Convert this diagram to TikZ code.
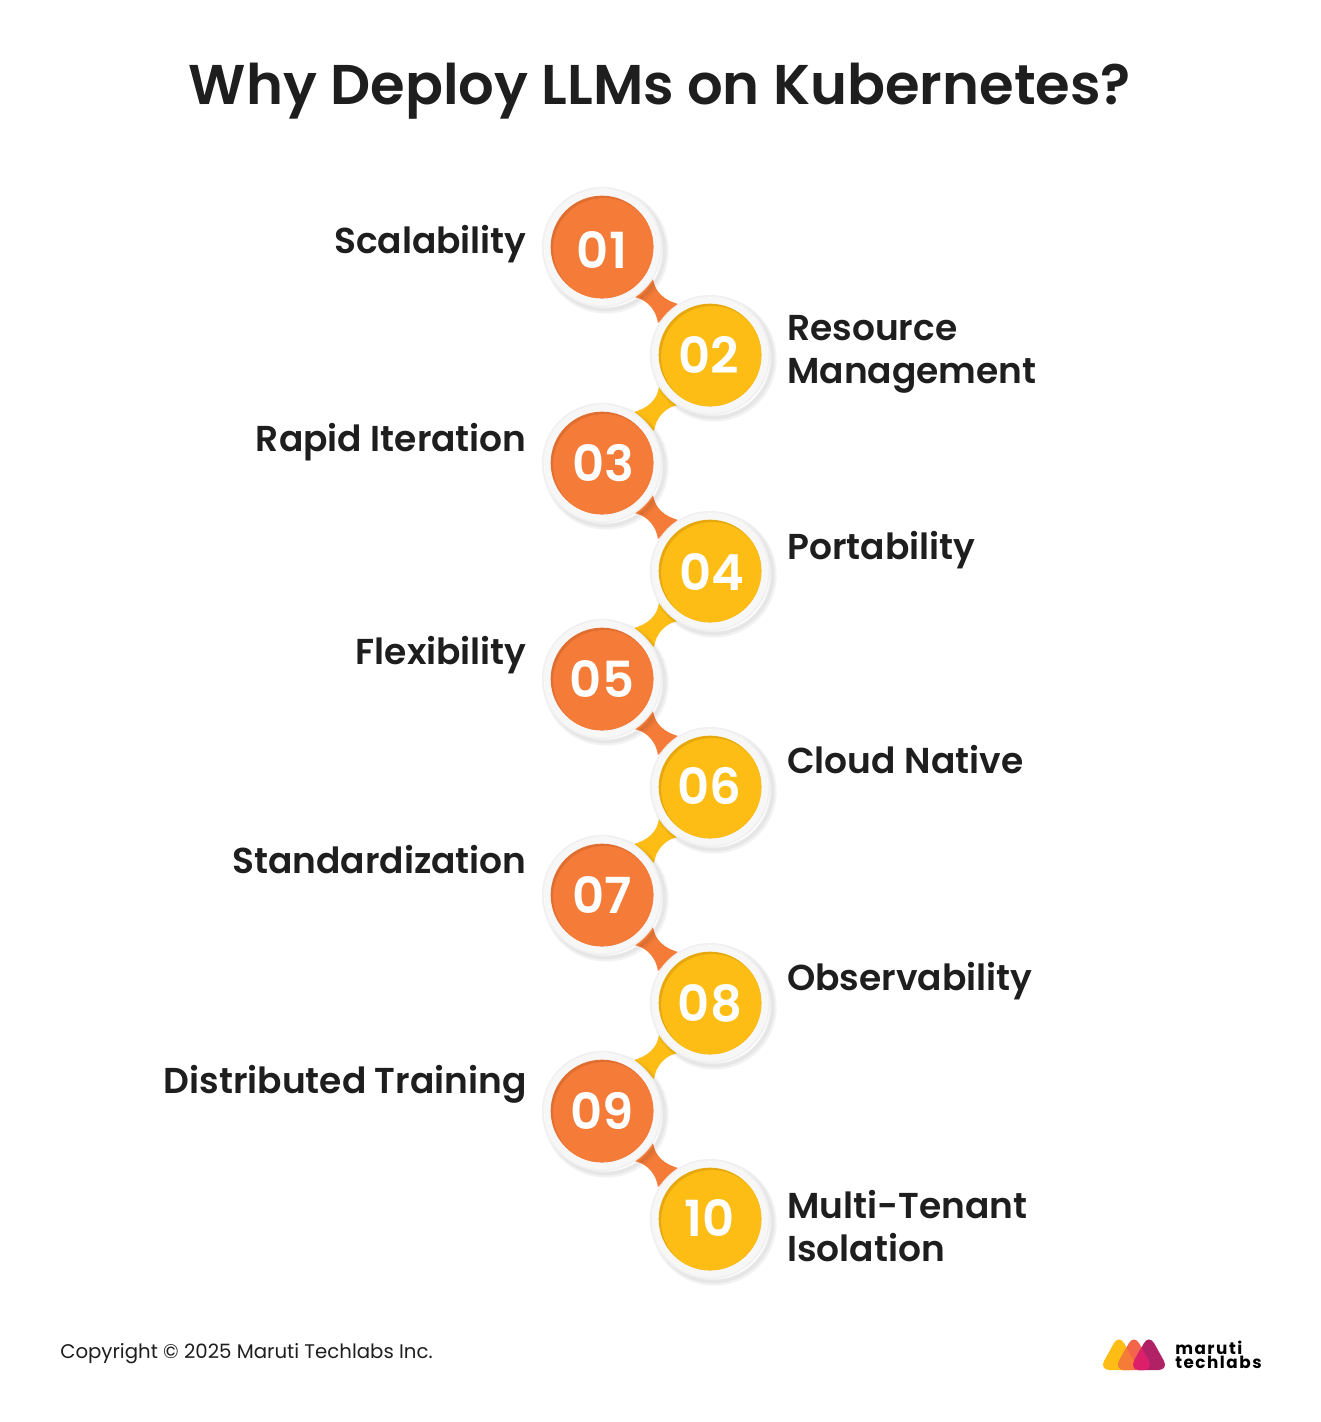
\documentclass[tikz,border=0pt]{standalone}
\usepackage{fontspec}
\setmainfont{Poppins}
\newfontfamily\semibold{Poppins SemiBold}
\newfontfamily\logofont[LetterSpace=9]{Poppins}
\usepackage{tikz}
\usetikzlibrary{calc,backgrounds}
\definecolor{textdark}{HTML}{1E1E1E}
\definecolor{orangedisc}{HTML}{F57C38}
\definecolor{orangedark}{HTML}{E06E30}
\definecolor{yellowdisc}{HTML}{FDBD14}
\definecolor{yellowdark}{HTML}{E6A80E}
\definecolor{logocoral}{HTML}{F2654A}
\definecolor{logoplum}{HTML}{B02265}
\definecolor{logopink}{HTML}{DD1F6A}
\tikzstyle{ring}=[circle,fill=black!3,draw=black!6,line width=1.2pt,minimum size=89pt,inner sep=0pt,
  preaction={draw=black,draw opacity=.05,line width=5pt,transform canvas={xshift=3pt,yshift=-3pt}},
  preaction={draw=black,draw opacity=.05,line width=2.5pt,transform canvas={xshift=2.5pt,yshift=-2.5pt}}]
\tikzstyle{disc}=[circle,minimum size=77pt,inner sep=0pt]
\tikzstyle{number}=[font=\semibold\fontsize{37.3}{38}\selectfont,text=white,anchor=base,inner sep=0pt]
\tikzstyle{leftlabel}=[font=\semibold\fontsize{27}{32.25}\selectfont,text=textdark,anchor=base east,inner sep=0pt,align=right]
\tikzstyle{rightlabel}=[font=\semibold\fontsize{27}{32.25}\selectfont,text=textdark,anchor=base west,inner sep=0pt,align=left]
\begin{document}
\begin{tikzpicture}[x=0.75pt,y=-0.75pt]
  \useasboundingbox (0,0) rectangle (1321,1422);

  \node[font=\semibold\fontsize{42}{42}\selectfont,text=textdark,anchor=base,inner sep=0pt] (title) at (660,104) {Why Deploy LLMs on Kubernetes?};

  \foreach \y/\x/\name/\col/\tx/\ty in {247/602/01/orange/602/250, 355/710/02/yellow/709/355, 463/602/03/orange/603/463,
      571/710/04/yellow/712/572, 679/602/05/orange/602/679, 787/710/06/yellow/709/786, 895/602/07/orange/602/895,
      1003/710/08/yellow/710/1003, 1111/602/09/orange/602/1111, 1219/710/10/yellow/710/1218}
  {
    \node[ring] (r\name) at (\x,\y) {};
    \node[disc,fill=\col dark,path picture={\fill[\col disc] ($(path picture bounding box.center)+(1.5pt,-1.5pt)$) circle (38.2pt);}] (c\name) at (\x,\y) {};
    \node[number] (n\name) at (\tx,\ty+18) {\name};
  }

  \begin{pgfonlayer}{background}
  \foreach \source/\dest/\col/\flip in {c01/c02/orange/1, c02/c03/yellow/-1, c03/c04/orange/1, c04/c05/yellow/-1, c05/c06/orange/1,
      c06/c07/yellow/-1, c07/c08/orange/1, c08/c09/yellow/-1, c09/c10/orange/1}
    \fill[\col disc,shift={($(\source)!0.5!(\dest)$)},xscale=\flip] (-3,-22) .. controls (-1,-9) and (8,-1) .. (22,3)
      -- (2,22) .. controls (0,8) and (-10,-2) .. (-22,-4) -- cycle;
  \end{pgfonlayer}

  \foreach \y/\name/\label in {253/a/Scalability, 451/b/Rapid Iteration, 664/c/Flexibility, 873/d/Standardization, 1093/e/Distributed Training}
    \node[leftlabel] (\name) at (527,\y) {\label};
  \foreach \y/\name/\label in {383/f/Resource\\Management, 559/g/Portability, 773/h/Cloud Native, 990/i/Observability, 1261/j/Multi-Tenant\\Isolation}
    \node[rightlabel] (\name) at (787,\y) {\label};

  \node[font=\fontsize{14.8}{16}\selectfont,text=textdark,anchor=base west,inner sep=0pt] (copyright) at (60,1358) {Copyright © 2025 Maruti Techlabs Inc.};

  % logo
  \def\tri#1{(#1,1370) -- (#1+20,1370) -- (#1,1334) -- (#1-20,1370) -- cycle}
  \fill[yellowdisc,rounded corners=8] \tri{1119};
  \fill[logocoral,rounded corners=8] \tri{1134};
  \fill[logoplum,rounded corners=8] \tri{1149};
  \begin{scope}
    \clip[rounded corners=8] \tri{1119};
    \fill[orangedisc,rounded corners=8] \tri{1134};
  \end{scope}
  \begin{scope}
    \clip[rounded corners=8] \tri{1134};
    \fill[logopink,rounded corners=8] \tri{1149};
  \end{scope}
  \node[font=\logofont\bfseries\fontsize{12.6}{10.5}\selectfont,text=black,anchor=base west,inner sep=0pt,align=left] (logo) at (1175,1368) {maruti\\techlabs};
\end{tikzpicture}
\end{document}
